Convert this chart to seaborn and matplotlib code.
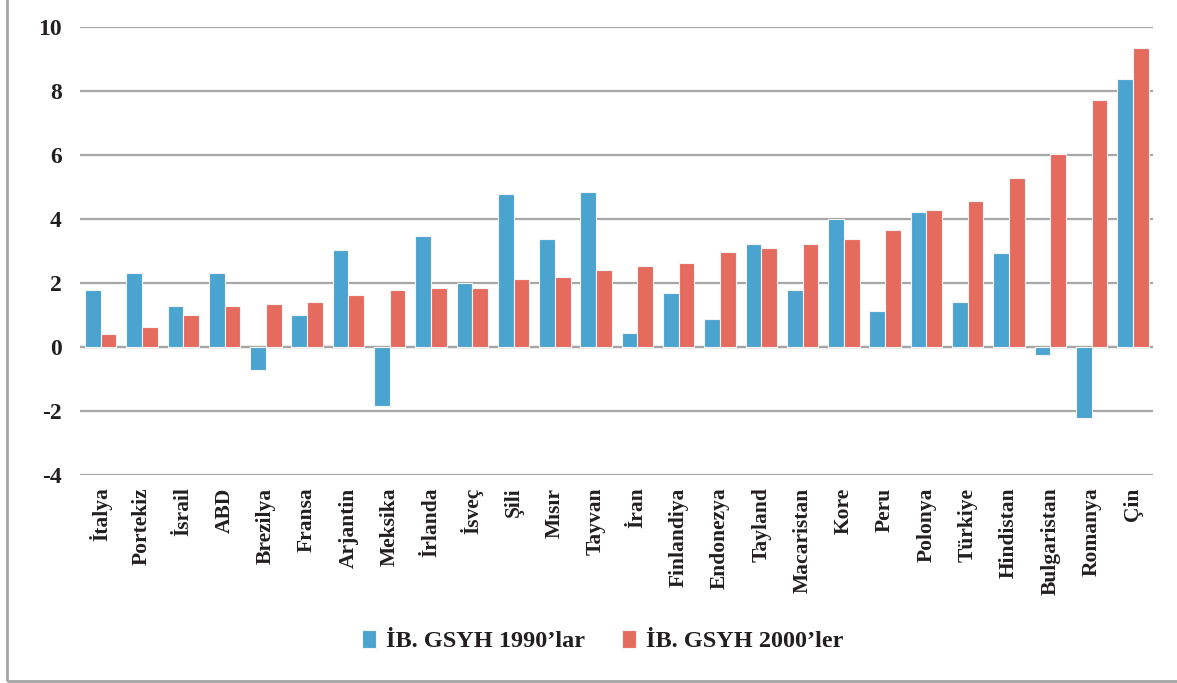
import pandas as pd
import seaborn as sns
import matplotlib.pyplot as plt
from matplotlib.patches import Rectangle

# Ülkeler ve kişi başı GSYH büyüme ortalamaları (%)
countries = ["İtalya", "Portekiz", "İsrail", "ABD", "Brezilya", "Fransa", "Arjantin",
             "Meksika", "İrlanda", "İsveç", "Şili", "Mısır", "Tayvan", "İran",
             "Finlandiya", "Endonezya", "Tayland", "Macaristan", "Kore", "Peru",
             "Polonya", "Türkiye", "Hindistan", "Bulgaristan", "Romanya", "Çin"]
gdp_1990s = [1.78, 2.30, 1.28, 2.30, -0.72, 1.00, 3.03, -1.84, 3.47, 2.00, 4.78, 3.37, 4.84,
             0.44, 1.69, 0.88, 3.22, 1.78, 4.00, 1.12, 4.22, 1.41, 2.94, -0.25, -2.22, 8.38]
gdp_2000s = [0.40, 0.62, 1.00, 1.28, 1.34, 1.40, 1.62, 1.78, 1.84, 1.84, 2.12, 2.19, 2.41,
             2.53, 2.62, 2.97, 3.09, 3.22, 3.37, 3.66, 4.28, 4.56, 5.28, 6.03, 7.72, 9.34]
series_names = ["İB. GSYH 1990’lar", "İB. GSYH 2000’ler"]
yticks = [-4, -2, 0, 2, 4, 6, 8, 10]

df = pd.DataFrame({
    "Ülke": countries * 2,
    "Değer": gdp_1990s + gdp_2000s,
    "Seri": [series_names[0]] * len(countries) + [series_names[1]] * len(countries),
})

sns.set_style("white")
plt.rcParams["font.family"] = ["Liberation Serif", "DejaVu Serif"]
plt.rcParams["font.weight"] = "bold"

fig = plt.figure(figsize=(11.77, 6.83), dpi=100)
ax = fig.add_axes([0.068, 0.3045, 0.912, 0.656])

sns.barplot(data=df, x="Ülke", y="Değer", hue="Seri",
            palette=["#4BA3CF", "#E66B5F"], saturation=1, width=0.76,
            edgecolor="#F4F4F4", linewidth=0.8, ax=ax, legend=True)

ax.set_ylim(-4, 10)
ax.set_xlim(-0.5, len(countries) - 0.5)
ax.set_yticks(yticks)
ax.set_yticklabels([str(t) for t in yticks], fontsize=17, fontweight="bold", color="#231F20")
ax.yaxis.grid(True, color="#A6A6A6", linewidth=1.6)
ax.set_axisbelow(True)
ax.axhline(0, color="#A6A6A6", linewidth=1.6, zorder=0.5)
ax.tick_params(axis="y", length=0, pad=13)
ax.tick_params(axis="x", length=0, pad=9)
plt.setp(ax.get_xticklabels(), rotation=90, fontsize=15.5, fontweight="bold",
         color="#231F20", va="top", ha="center")
ax.set_xlabel("")
ax.set_ylabel("")
for s in ax.spines.values():
    s.set_visible(False)

ax.legend(loc="center", bbox_to_anchor=(0.512, (683 - 641) / 683), bbox_transform=fig.transFigure,
          ncol=2, frameon=False, prop={"weight": "bold", "size": 17.5},
          handlelength=0.6, handleheight=0.75, handletextpad=0.4, columnspacing=1.5,
          labelcolor="#231F20")

# çerçeve
fig.patches.append(Rectangle((7 / 1177, 2 / 683), 1.1, 1.0, transform=fig.transFigure,
                             fill=False, edgecolor="#A6A6A6", linewidth=2))

fig.savefig("out.png", dpi=100)
